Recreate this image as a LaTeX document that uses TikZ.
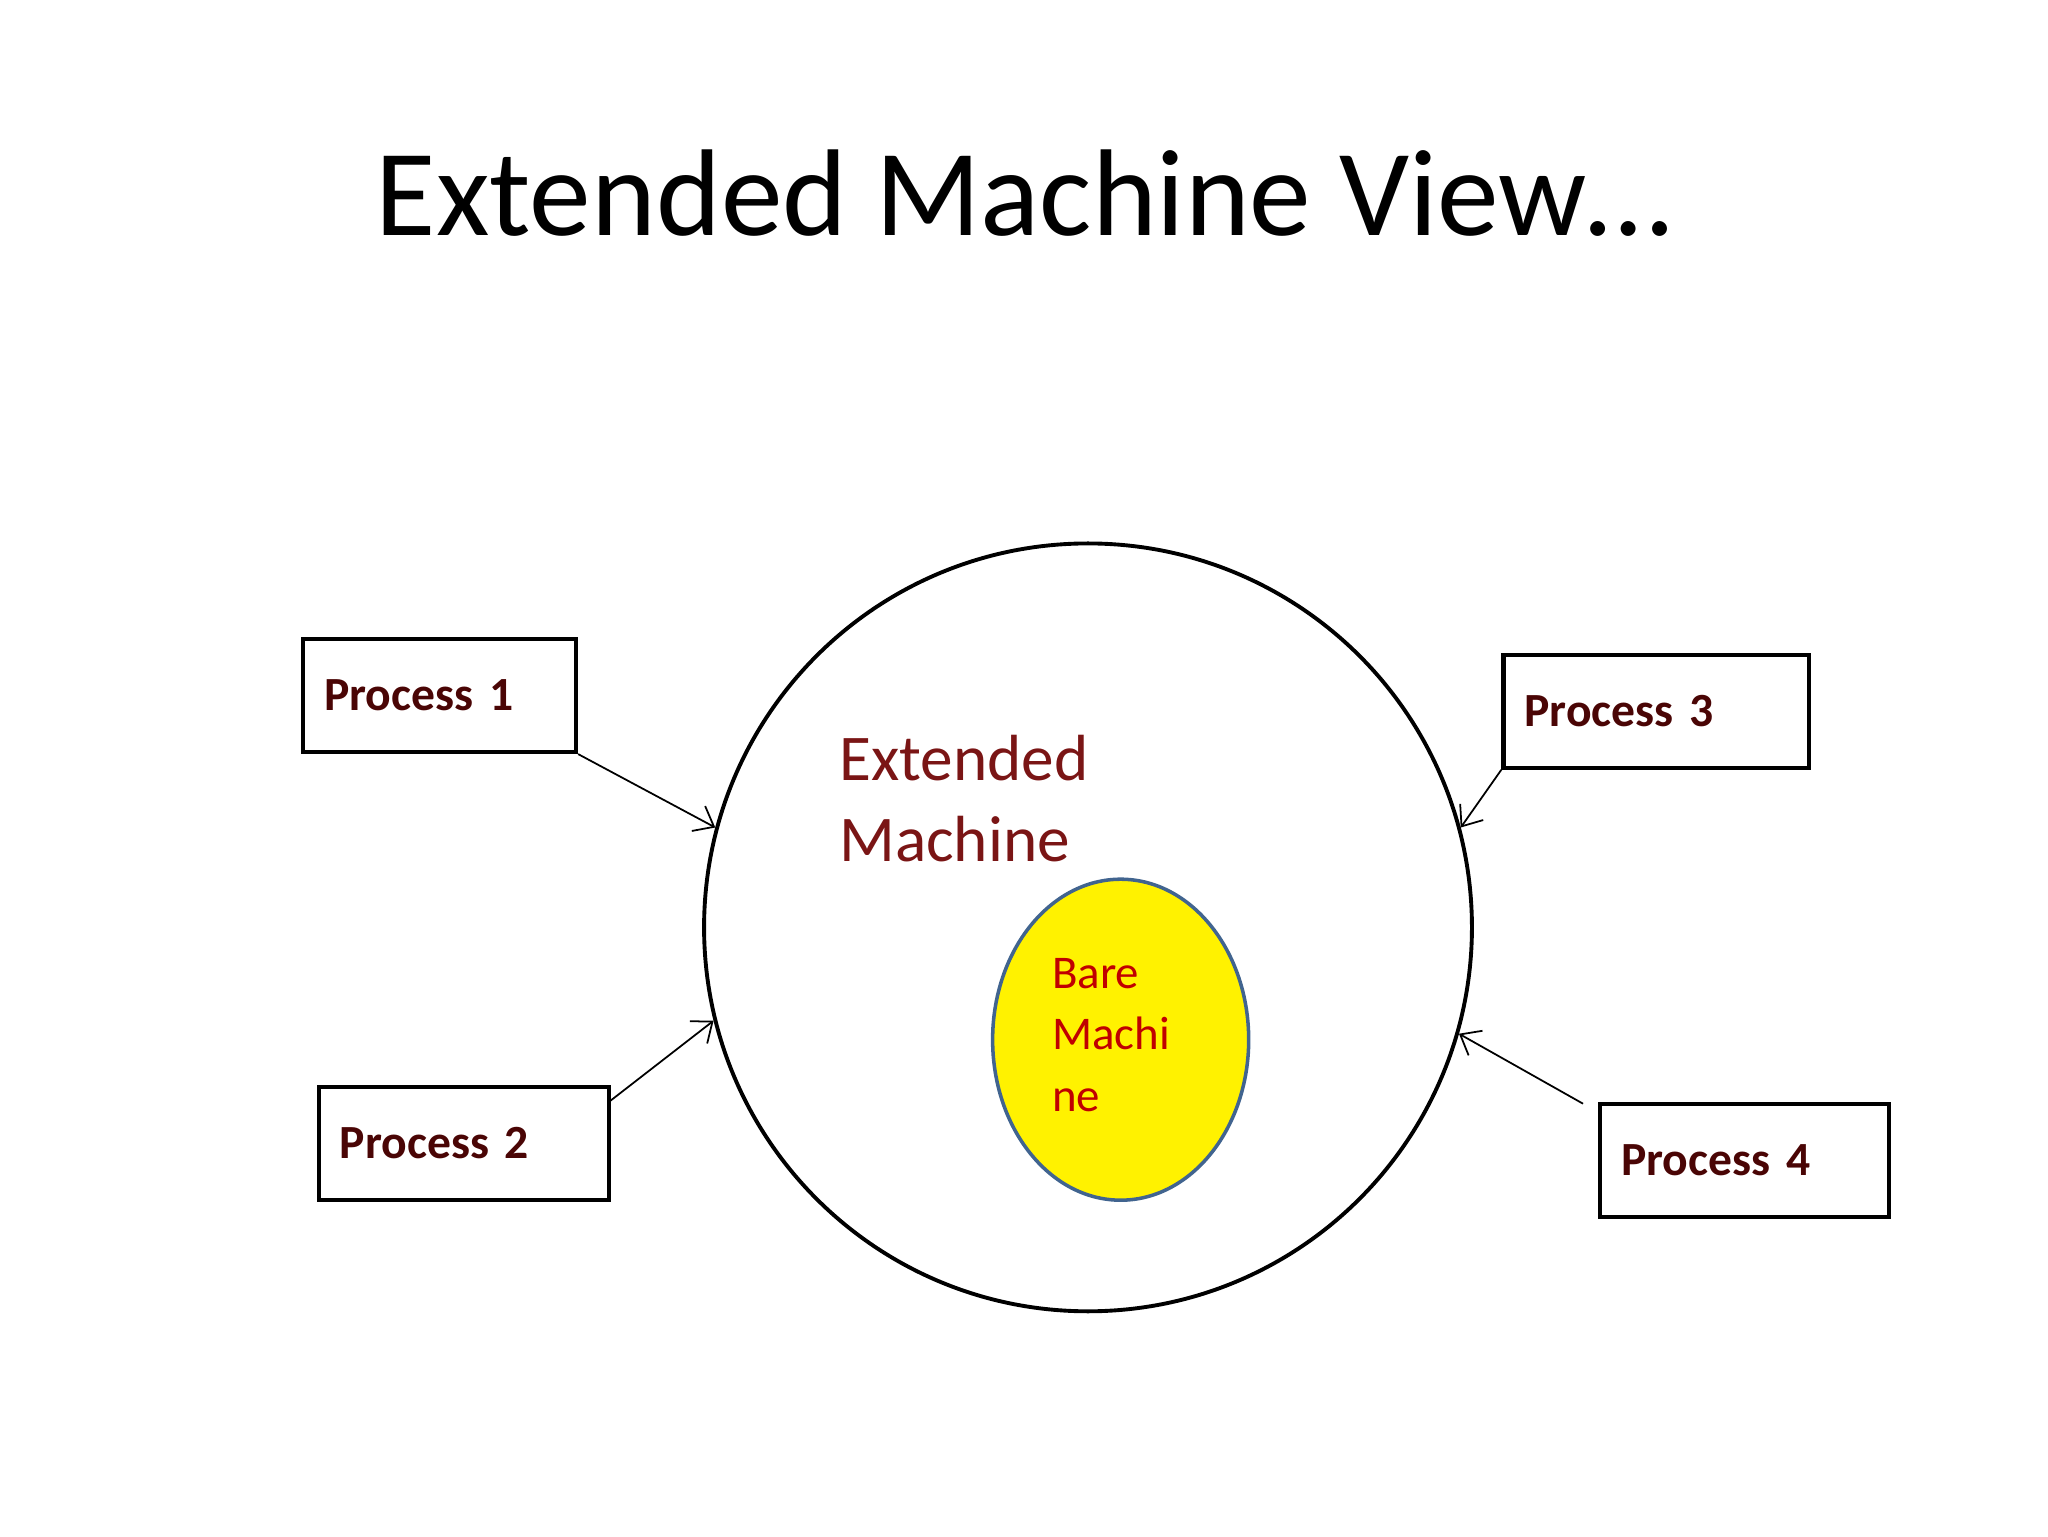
\documentclass[tikz,border=0pt]{standalone}
\usepackage{fontspec}
\setmainfont{Carlito}
\usetikzlibrary{arrows.meta,shapes.geometric}
\definecolor{emred}{HTML}{7A1515}
\definecolor{barered}{HTML}{C00000}
\definecolor{procred}{HTML}{4A0505}
\definecolor{elbl}{HTML}{41648F}
\begin{document}
\begin{tikzpicture}[x=0.3703pt,y=-0.3703pt,
  proc/.style={draw=black,line width=1.2pt,minimum width=#1,inner sep=0pt,minimum height=32pt,text width=#1-12pt,align=left,font=\fontsize{13.5}{16}\selectfont\bfseries,text=procred},
  arr/.style={-{Straight Barb[length=5pt,width=8pt]},line width=0.5pt}]
\useasboundingbox (0,0) rectangle (1568,1176);
\node[font=\fontsize{35}{40}\selectfont] (title) at (784,148) {Extended Machine View…};
\node[circle,draw,line width=1.1pt,minimum size=217.7pt,inner sep=0pt] (circ) at (833,710) {};
\node[ellipse,draw=elbl,line width=1pt,fill=yellow,minimum width=72.6pt,minimum height=91pt,inner sep=0pt] (bare) at (858,796) {};
\node[anchor=north west,align=left,text=emred,font=\fontsize{18.5}{23}\selectfont,inner sep=0pt] (ext) at (642,562) {Extended\\Machine};
\node[anchor=north west,align=left,text=barered,font=\fontsize{13.3}{17.5}\selectfont,inner sep=0pt] (baretxt) at (805,733) {Bare\\Machi\\ne};
\node[proc=77.4pt] (p1) at (336.5,532.5) {Process 1};
\node[proc=82.2pt] (p2) at (355,875.5) {Process 2};
\node[proc=86.6pt] (p3) at (1268,544.5) {Process 3};
\node[proc=81.8pt] (p4) at (1335.5,888.5) {Process 4};
\coordinate (s2) at (467,843);
\coordinate (s4) at (1212,845);
\draw[arr] (p1.south east) -- (circ.165.4);
\draw[arr] (s2) -- (circ.194);
\draw[arr] (p3.south west) -- (circ.15);
\draw[arr] (s4) -- (circ.-16.4);
\end{tikzpicture}
\end{document}
